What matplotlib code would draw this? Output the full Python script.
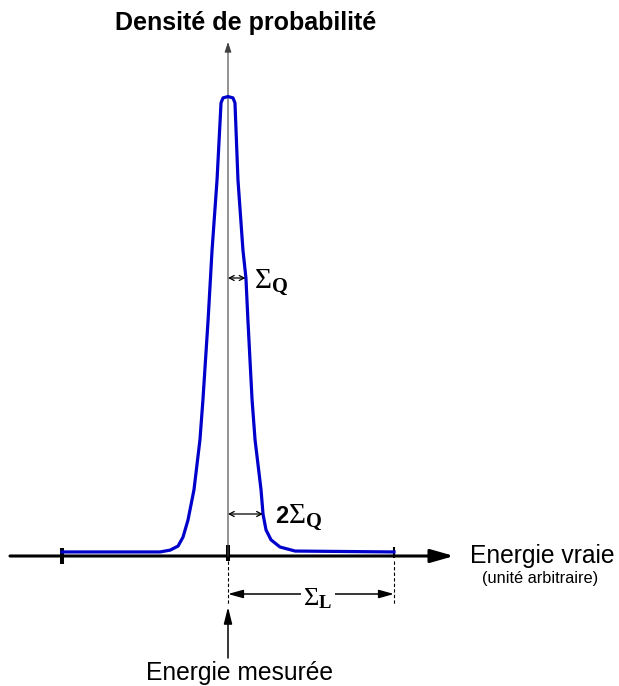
import matplotlib
matplotlib.use("Agg")
import matplotlib.pyplot as plt

plt.rcParams['font.family'] = ['Liberation Sans', 'DejaVu Sans']
plt.rcParams['mathtext.fontset'] = 'custom'
plt.rcParams['mathtext.rm'] = 'Liberation Serif'
plt.rcParams['mathtext.bf'] = 'Liberation Serif:bold'
plt.rcParams['mathtext.it'] = 'Liberation Serif:italic'

# energy (measured energy at 0), density of probability (peak ~1)
energy = [-10.0, -4.10, -3.49, -3.01, -2.71, -2.41, -2.05, -1.69, -1.51, -1.20, -0.96,
          -0.66, -0.42, -0.30, 0.0, 0.30, 0.42, 0.60, 0.90, 1.08, 1.20, 1.45, 1.63,
          1.99, 2.11, 2.29, 2.59, 3.13, 4.04, 10.0]
density = [0.009, 0.009, 0.013, 0.022, 0.042, 0.080, 0.147, 0.258, 0.347, 0.524, 0.680,
           0.836, 1.007, 1.018, 1.021, 1.018, 1.007, 0.836, 0.680, 0.618, 0.524, 0.347, 0.258,
           0.147, 0.093, 0.058, 0.036, 0.020, 0.011, 0.009]
sigma_q = 1.05
sigma_l = 10.0

title = "Densité de probabilité"
xlabel = "Energie vraie"
xunit = "(unité arbitraire)"
measured = "Energie mesurée"

# pixel -> data helpers for the layout of the annotations
def X(px):
    return (px - 228) / 16.6

def Y(py):
    return (556 - py) / 450.0

fig = plt.figure(figsize=(6.19, 6.86), dpi=100)
ax = fig.add_axes([0, 0, 1, 1])
ax.axis('off')
ax.set_xlim(X(0), X(619))
ax.set_ylim(Y(686), Y(0))

# horizontal axis with arrow
ax.annotate('', xy=(X(454), 0), xytext=(X(10), 0),
            arrowprops=dict(arrowstyle='-|>,head_length=1.4,head_width=0.4',
                            lw=2.2, color='k', shrinkA=0, shrinkB=0))
# vertical axis
ax.annotate('', xy=(0, Y(42)), xytext=(0, 0),
            arrowprops=dict(arrowstyle='-|>,head_length=0.6,head_width=0.2',
                            lw=0.8, color='#404040', shrinkA=0, shrinkB=0))

# the curve
ax.plot(energy, density, color='#0000cc', lw=2.3, solid_joinstyle='round', zorder=3)

# ticks
ax.plot([energy[0]] * 2, [Y(548), Y(564)], color='k', lw=2.9, solid_capstyle='butt')
ax.plot([0, 0], [Y(545), Y(561)], color='k', lw=2.9, solid_capstyle='butt')
ax.plot([energy[-1]] * 2, [Y(547), Y(558)], color='k', lw=1.5, solid_capstyle='butt')

# dashed guides
for e in [0, sigma_l]:
    ax.plot([e, e], [Y(561), Y(604)], color='k', lw=0.8, ls=(0, (3, 2)))

# sigma_L arrow
ax.annotate('', xy=(sigma_l, Y(594)), xytext=(0, Y(594)),
            arrowprops=dict(arrowstyle='<|-|>,head_length=0.9,head_width=0.25',
                            lw=1.1, color='k', shrinkA=0, shrinkB=0))
ax.text(X(318), Y(605), r'$\Sigma_{\mathbf{L}}$', fontsize=19, ha='center', va='baseline',
        bbox=dict(boxstyle='square,pad=0.1', fc='white', ec='none'))

# sigma_Q arrows
ax.annotate('', xy=(sigma_q, Y(278)), xytext=(0, Y(278)),
            arrowprops=dict(arrowstyle='<->,head_length=0.35,head_width=0.18',
                            lw=0.9, color='k', shrinkA=0, shrinkB=0))
ax.text(X(254), Y(288), r'$\Sigma_{\mathbf{Q}}$', fontsize=21, ha='left', va='baseline')

ax.annotate('', xy=(2 * sigma_q, Y(514)), xytext=(0, Y(514)),
            arrowprops=dict(arrowstyle='<->,head_length=0.35,head_width=0.18',
                            lw=0.9, color='k', shrinkA=0, shrinkB=0))
ax.text(X(275), Y(523), '2', fontsize=17, fontweight='bold', ha='left', va='baseline')
ax.text(X(288), Y(523), r'$\Sigma_{\mathbf{Q}}$', fontsize=21, ha='left', va='baseline')

# measured energy arrow
ax.annotate('', xy=(0, Y(607)), xytext=(0, Y(658)),
            arrowprops=dict(arrowstyle='-|>,head_length=1.0,head_width=0.25',
                            lw=1.1, color='k', shrinkA=0, shrinkB=0))

# labels
ax.text(X(246), Y(30), title, fontsize=18, fontweight='bold', ha='center', va='baseline')
ax.text(X(542), Y(563), xlabel, fontsize=17.7, ha='center', va='baseline')
ax.text(X(540), Y(583), xunit, fontsize=11.8, ha='center', va='baseline')
ax.text(X(239), Y(680), measured, fontsize=17.7, ha='center', va='baseline')

fig.savefig('out.png', dpi=100)
